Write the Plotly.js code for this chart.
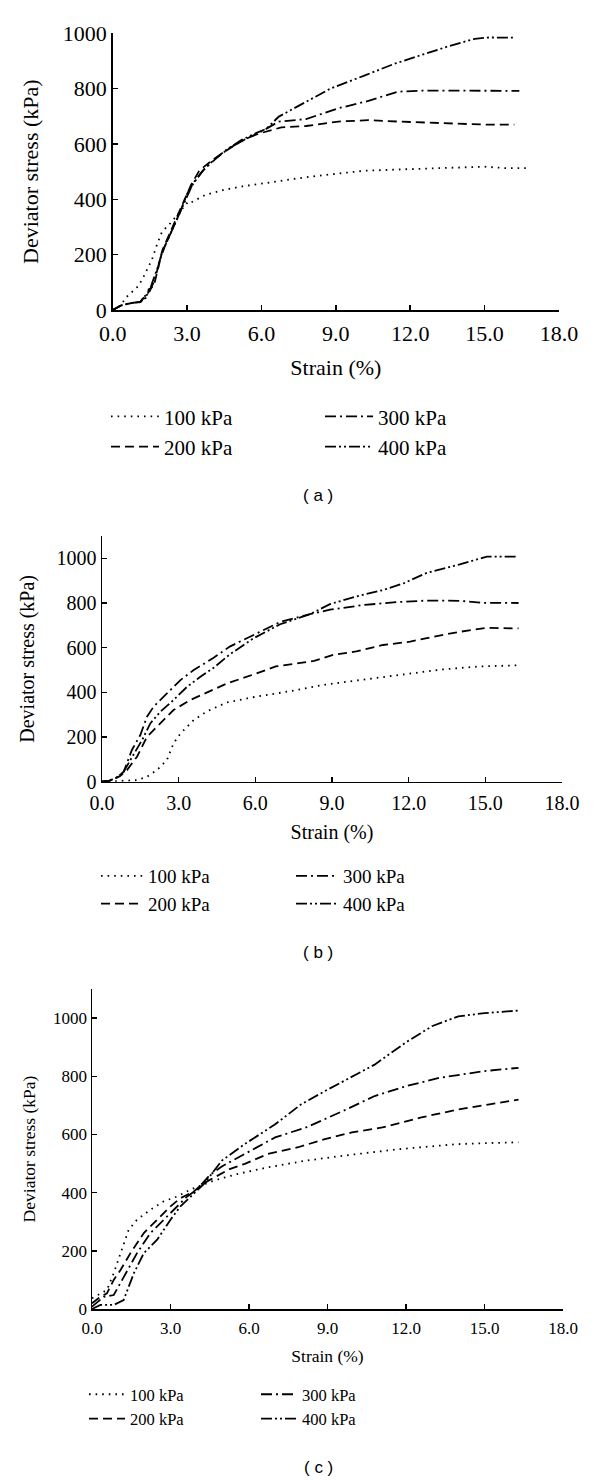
<!DOCTYPE html>
<html>
<head>
<meta charset="utf-8">
<script src="https://cdn.plot.ly/plotly-3.0.1.min.js"></script>
<style>html,body{margin:0;padding:0;background:#fff}#chart{width:600px;height:1481px}</style>
</head>
<body>
<div id="chart"></div>
<script>
// ---------- data ----------
const seriesNames = ["100 kPa", "200 kPa", "300 kPa", "400 kPa"];
const xTickVals = [0, 3, 6, 9, 12, 15, 18];
const yTickVals = [0, 200, 400, 600, 800, 1000];
const panelLabels = ["( a )", "( b )", "( c )"];
const xTitle = "Strain (%)";
const yTitle = "Deviator stress (kPa)";

// Panel (a)
const aStrain100 = [0, 0.3, 0.57, 1.04, 1.24, 1.58, 1.78, 1.99, 2.32, 2.66, 2.93, 3.05, 3.15, 3.74, 4.48, 5.3, 6.5, 7.8, 9.0, 10.1, 11.6, 13.0, 14.0, 15.0, 15.8, 16.8];
const aStress100 = [0, 15, 48, 87, 120, 181, 235, 283, 313, 349, 380, 392, 388, 416, 434, 448, 463, 480, 492, 503, 508, 512, 516, 518, 513, 513];
const aStrain200 = [0, 0.35, 0.8, 1.1, 1.2, 1.4, 1.45, 1.65, 1.85, 2.0, 2.3, 2.6, 2.9, 3.15, 3.5, 4.0, 4.56, 5.0, 5.5, 6.0, 6.8, 7.8, 9.1, 10.3, 11.5, 12.5, 14.0, 15.0, 16.2];
const aStress200 = [0, 17, 26, 28, 40, 45, 75, 85, 157, 215, 277, 337, 395, 450, 505, 540, 575, 600, 625, 640, 660, 665, 681, 686, 681, 678, 672, 670, 670];
const aStrain300 = [0, 0.35, 0.8, 1.15, 1.3, 1.5, 1.7, 1.9, 2.1, 2.4, 2.7, 3.0, 3.3, 3.7, 4.2, 4.7, 5.3, 6.0, 6.7, 7.8, 9.1, 10.2, 11.5, 12.5, 14.0, 15.0, 16.4];
const aStress300 = [0, 17, 26, 30, 50, 70, 110, 180, 230, 290, 350, 420, 465, 510, 550, 585, 615, 645, 681, 690, 729, 753, 789, 793, 792, 792, 792];
const aStrain400 = [0, 0.35, 0.8, 1.1, 1.25, 1.45, 1.6, 1.8, 2.0, 2.3, 2.6, 2.95, 3.2, 3.6, 4.1, 4.6, 5.2, 5.8, 6.2, 6.7, 7.9, 8.8, 10.2, 11.4, 12.4, 13.5, 14.6, 15.2, 16.2];
const aStress400 = [0, 17, 26, 28, 45, 60, 100, 150, 210, 270, 330, 400, 450, 500, 545, 580, 615, 640, 655, 699, 759, 801, 849, 891, 920, 952, 980, 985, 984];

// Panel (b)
const bStrain100 = [0, 0.5, 1.0, 1.37, 1.76, 2.15, 2.54, 2.8, 3.07, 3.59, 4.11, 4.89, 5.9, 7.4, 8.75, 10.25, 11.76, 13.26, 14.76, 16.3];
const bStress100 = [0, 2, 4, 7, 22, 52, 97, 172, 216, 276, 315, 355, 378, 406, 435, 457, 479, 502, 516, 521];
const bStrain200 = [0, 0.3, 0.7, 0.98, 1.37, 1.76, 2.28, 2.8, 3.46, 4.11, 4.89, 5.9, 6.8, 7.7, 8.3, 9.05, 9.95, 11.0, 12.06, 12.96, 14.0, 15.06, 16.3];
const bStress200 = [0, 5, 25, 52, 112, 201, 261, 321, 366, 400, 440, 479, 516, 531, 541, 568, 583, 612, 627, 649, 671, 689, 686];
const bStrain300 = [0, 0.3, 0.6, 0.85, 1.17, 1.5, 1.76, 2.02, 2.54, 3.07, 3.59, 4.37, 5.0, 5.9, 6.97, 8.14, 8.92, 10.23, 11.54, 12.71, 13.3, 14.0, 14.9, 16.3];
const bStress300 = [0, 5, 20, 45, 142, 209, 291, 336, 395, 455, 500, 555, 605, 655, 715, 750, 770, 791, 804, 811, 811, 810, 801, 800];
const bStrain400 = [0, 0.3, 0.6, 0.85, 1.11, 1.57, 1.89, 2.28, 2.8, 3.33, 3.85, 4.37, 5.0, 5.9, 6.97, 8.14, 8.92, 9.97, 11.0, 11.8, 12.71, 14.0, 15.06, 16.3];
const bStress400 = [0, 5, 20, 45, 97, 187, 261, 313, 366, 425, 470, 510, 570, 640, 705, 750, 795, 830, 858, 888, 935, 973, 1008, 1008];

// Panel (c)
const cStrain100 = [0, 0.32, 0.57, 0.83, 1.09, 1.4, 1.72, 2.23, 2.74, 3.26, 3.8, 4.67, 5.55, 6.72, 8.18, 9.6, 11.8, 14.0, 15.0, 16.3];
const cStress100 = [37, 54, 65, 123, 192, 272, 307, 341, 370, 387, 412, 442, 464, 487, 510, 527, 550, 567, 570, 573];
const cStrain200 = [0, 0.3, 0.57, 0.83, 1.09, 1.47, 1.98, 2.49, 3.0, 3.38, 3.89, 4.23, 5.26, 5.84, 6.72, 7.88, 8.9, 9.93, 11.1, 12.55, 14.0, 16.3];
const cStress200 = [20, 40, 54, 100, 134, 192, 261, 307, 353, 381, 404, 430, 481, 499, 533, 556, 584, 607, 624, 658, 686, 720];
const cStrain300 = [0, 0.45, 0.83, 1.21, 1.72, 2.23, 2.74, 3.26, 3.64, 4.0, 4.5, 4.96, 5.84, 7.0, 8.18, 9.6, 10.8, 12.0, 13.3, 15.0, 16.3];
const cStress300 = [8, 42, 48, 111, 192, 261, 307, 353, 387, 410, 460, 490, 533, 590, 624, 681, 732, 766, 795, 818, 829];
const cStrain400 = [0, 0.32, 0.83, 1.21, 1.6, 1.98, 2.49, 3.0, 3.38, 3.77, 4.28, 4.96, 5.84, 7.0, 8.0, 8.9, 9.6, 10.8, 11.97, 12.99, 14.0, 15.0, 16.3];
const cStress400 = [0, 14, 14, 31, 123, 192, 238, 307, 353, 387, 430, 510, 567, 635, 704, 749, 783, 840, 915, 972, 1006, 1017, 1026];

// ---------- styling ----------
const W = 600, H = 1481;
const px = v => v / W;
const py = v => 1 - v / H;
const SERIF = "Liberation Serif, Times New Roman, serif";
const dashes = ["1.6px,5px", "9px,5px", "11px,4px,2px,4px", "11px,3px,2px,3px,2px,3px"];

const panels = [
  {x: [aStrain100, aStrain200, aStrain300, aStrain400], y: [aStress100, aStress200, aStress300, aStress400],
   xd: [112.7, 559], y0: 310, ytop: 33.3, yr: [0, 1000], tick: 22, title: 22, leg: 21, itemw: 48,
   legX: [106, 320], legRows: [416.7, 446.7], cap: 495, xStand: 14, yStand: 18},
  {x: [bStrain100, bStrain200, bStrain300, bStrain400], y: [bStress100, bStress200, bStress300, bStress400],
   xd: [102, 562], y0: 781.7, ytop: 536, yr: [0, 1100], tick: 20, title: 20, leg: 19, itemw: 42,
   legX: [96, 291], legRows: [877, 903], cap: 952, xStand: 12, yStand: 16},
  {x: [cStrain100, cStrain200, cStrain300, cStrain400], y: [cStress100, cStress200, cStress300, cStress400],
   xd: [92, 563], y0: 1309, ytop: 989, yr: [0, 1100], tick: 17, title: 17.5, leg: 16.5, itemw: 36,
   legX: [84, 256], legRows: [1395, 1418], cap: 1467, xStand: 13, yStand: 13}
];

const traces = [];
const layout = {
  width: W, height: H, margin: {l: 0, r: 0, t: 0, b: 0},
  paper_bgcolor: "#fff", plot_bgcolor: "#fff", showlegend: true,
  annotations: []
};

let legendIdx = 0;
panels.forEach((p, i) => {
  const sfx = i === 0 ? "" : String(i + 1);
  const axCommon = {
    showline: true, linecolor: "#000", linewidth: 1.5,
    ticks: "inside", ticklen: 5, tickwidth: 1.5, tickcolor: "#000",
    showgrid: false, zeroline: false, automargin: false
  };
  layout["xaxis" + sfx] = Object.assign({}, axCommon, {
    domain: [px(p.xd[0]), px(p.xd[1])], anchor: "y" + sfx,
    range: [0, 18], tickvals: xTickVals, tickformat: ".1f", ticklabelstandoff: 3,
    tickfont: {family: SERIF, size: p.tick, color: "#000"},
    title: {text: xTitle, font: {family: SERIF, size: p.title, color: "#000"}, standoff: p.xStand}
  });
  layout["yaxis" + sfx] = Object.assign({}, axCommon, {
    domain: [py(p.y0), py(p.ytop)], anchor: "x" + sfx,
    range: p.yr, tickvals: yTickVals,
    tickfont: {family: SERIF, size: p.tick, color: "#000"},
    title: {text: yTitle, font: {family: SERIF, size: p.title, color: "#000"}, standoff: p.yStand}
  });
  const legNames = [];
  [0, 1].forEach(c => {
    legendIdx += 1;
    const ln = legendIdx === 1 ? "legend" : "legend" + legendIdx;
    legNames.push(ln);
    layout[ln] = {
      x: px(p.legX[c]), xanchor: "left",
      y: py((p.legRows[0] + p.legRows[1]) / 2), yanchor: "middle",
      orientation: "v", bgcolor: "rgba(0,0,0,0)", borderwidth: 0,
      itemwidth: p.itemw,
      font: {family: SERIF, size: p.leg, color: "#000"},
      traceorder: "normal"
    };
  });
  seriesNames.forEach((name, s) => {
    traces.push({
      type: "scatter", mode: "lines", name: name,
      x: p.x[s], y: p.y[s],
      xaxis: "x" + sfx, yaxis: "y" + sfx,
      line: {color: "#000", width: 1.8, dash: dashes[s]},
      legend: legNames[s < 2 ? 0 : 1],
      hoverinfo: "skip"
    });
  });
  layout.annotations.push({
    xref: "paper", yref: "paper", x: px(318), y: py(p.cap),
    xanchor: "center", yanchor: "middle", showarrow: false,
    text: panelLabels[i],
    font: {family: "Liberation Sans, Arial, sans-serif", size: 17, color: "#000"}
  });
});

Plotly.newPlot("chart", traces, layout, {staticPlot: true, displayModeBar: false});
</script>
</body>
</html>
